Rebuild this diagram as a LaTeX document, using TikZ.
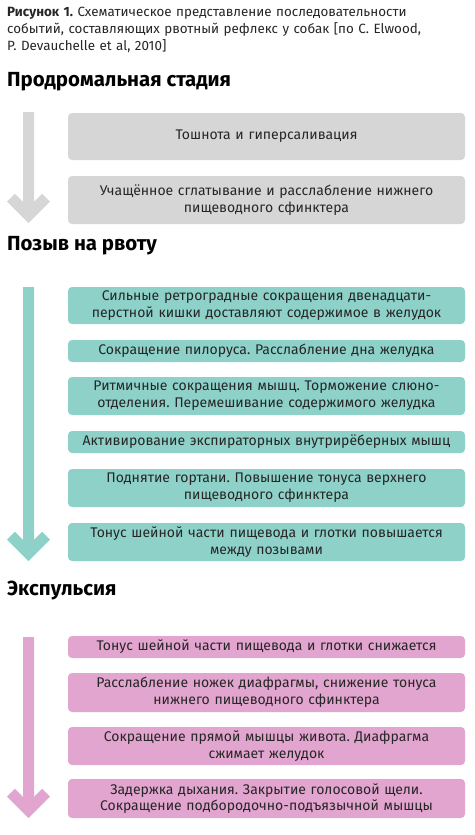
\documentclass[tikz,border=0pt]{standalone}
\usepackage{fontspec}
\setmainfont{Fira Sans}
\usetikzlibrary{calc}
\frenchspacing
\definecolor{prodgray}{HTML}{D6D6D6}
\definecolor{urgeteal}{HTML}{8DD1C9}
\definecolor{expelpink}{HTML}{E2A5CF}
\definecolor{inktext}{HTML}{262626}
\tikzset{x=1pt, y=-1pt,
    caption text/.style={anchor=north west, align=left, inner sep=0pt,
           text width=466pt, text=inktext,
           font=\fontsize{13.4}{17}\selectfont},
    stage title/.style={anchor=west, inner sep=0pt, text=black,
           font=\bfseries\fontsize{20.4}{22}\selectfont},
    event box/.style={rounded corners=4pt, minimum width=397pt,
           text width=395pt, align=center, inner sep=0pt, text=inktext,
           font=\fontsize{14}{16.7}\selectfont}
    }
\def\FlowArrow#1#2#3{% colour, top of shaft, tip
  \fill[#1] (23,#2) -- (23,{#3-21}) -- (14.8,{#3-29.3}) -- (7,{#3-21.5})
     -- (28.5,#3) -- (50,{#3-21.5}) -- (42.2,{#3-29.3}) -- (34,{#3-21})
     -- (34,#2) -- cycle;
}
\def\Event#1#2#3#4#5{% name, colour, top, bottom, text
  \node[event box, fill=#2, minimum height={#4-#3}] (#1)
     at (266.5,{(#3+#4)/2}) {#5};
}

\begin{document}
\begin{tikzpicture}
\useasboundingbox (0,0) rectangle (474,835);
\node[caption text] (caption) at (7,7) {\textbf{Рисунок 1.} Схематическое представление последовательности\\
событий, составляющих рвотный рефлекс у собак [по C. Elwood,\\
P. Devauchelle et al, 2010]};
% prodromal stage
\node[stage title] (titleProd) at (7,82) {Продромальная стадия};
\FlowArrow{prodgray}{112}{223}
\Event{prod1}{prodgray}{113}{160}{Тошнота и гиперсаливация}
\Event{prod2}{prodgray}{176}{224}{Учащённое сглатывание и расслабление нижнего\\ пищеводного сфинктера}
% retching
\node[stage title] (titleUrge) at (7,246) {Позыв на рвоту};
\FlowArrow{urgeteal}{287}{561}
\Event{urge1}{urgeteal}{287}{324}{Сильные ретроградные сокращения двенадцати-\\ перстной кишки доставляют содержимое в желудок}
\Event{urge2}{urgeteal}{340}{362}{Сокращение пилоруса. Расслабление дна желудка}
\Event{urge3}{urgeteal}{377}{415}{Ритмичные сокращения мышц. Торможение слюно-\\ отделения. Перемешивание содержимого желудка}
\Event{urge4}{urgeteal}{431}{453}{Активирование экспираторных внутрирёберных мышц}
\Event{urge5}{urgeteal}{469}{507}{Поднятие гортани. Повышение тонуса верхнего\\ пищеводного сфинктера}
\Event{urge6}{urgeteal}{523}{561}{Тонус шейной части пищевода и глотки повышается\\ между позывами}
% expulsion
\node[stage title] (titleExpel) at (7,591) {Экспульсия};
\FlowArrow{expelpink}{637}{818}
\Event{expel1}{expelpink}{636}{658}{Тонус шейной части пищевода и глотки снижается}
\Event{expel2}{expelpink}{673}{712}{Расслабление ножек диафрагмы, снижение тонуса\\ нижнего пищеводного сфинктера}
\Event{expel3}{expelpink}{727}{765}{Сокращение прямой мышцы живота. Диафрагма\\ сжимает желудок}
\Event{expel4}{expelpink}{779}{818}{Задержка дыхания. Закрытие голосовой щели.\\ Сокращение подбородочно-подъязычной мышцы}
\end{tikzpicture}
\end{document}
